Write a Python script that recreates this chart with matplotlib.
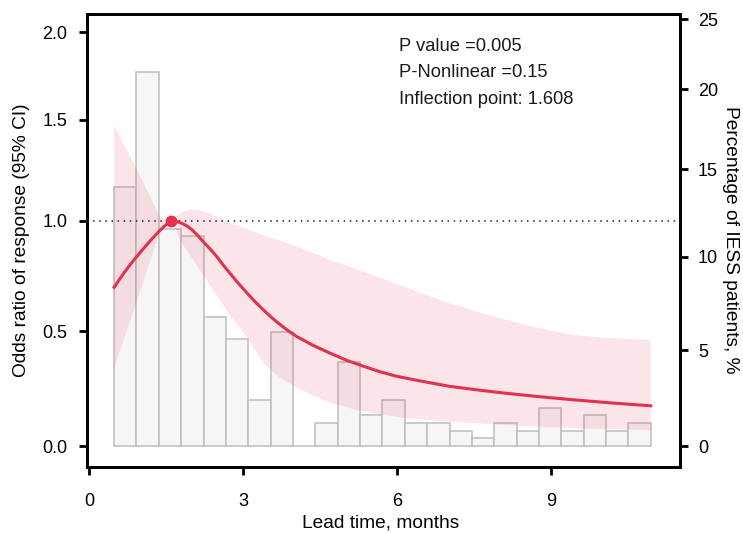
import numpy as np
import matplotlib
matplotlib.use("Agg")
import matplotlib.pyplot as plt

plt.rcParams['font.family'] = ['Liberation Sans', 'DejaVu Sans']

# ---------------- data ----------------
# histogram of lead time (percentage of IESS patients per bin)
hist_start = 0.49
hist_end = 10.95
hist_pct = [13.94, 21.12, 11.55, 11.16, 6.77, 5.58, 2.39, 5.98, 0.0, 1.20,
            4.38, 1.59, 2.39, 1.20, 1.20, 0.80, 0.40, 1.20, 0.80, 1.99,
            0.80, 1.59, 0.80, 1.20]

# fitted odds ratio curve
curve_x = [0.49, 0.60, 0.70, 0.83, 0.96, 1.10, 1.20, 1.29, 1.38, 1.45, 1.53, 1.608,
           1.70, 1.80, 1.90, 2.00, 2.12, 2.25, 2.38, 2.50, 2.62, 2.75, 2.90, 3.07,
           3.23, 3.40, 3.56, 3.72, 3.88, 4.05, 4.37, 4.70, 5.02, 5.35, 5.67, 6.00,
           6.45, 7.04, 7.60, 8.14, 8.80, 9.44, 10.20, 10.95]
curve_y = [0.695, 0.733, 0.766, 0.806, 0.843, 0.882, 0.909, 0.932, 0.955, 0.971, 0.988, 1.0,
           0.998, 0.99, 0.978, 0.96, 0.932, 0.897, 0.865, 0.832, 0.795, 0.758, 0.716, 0.672,
           0.632, 0.594, 0.560, 0.530, 0.502, 0.476, 0.437, 0.403, 0.372, 0.346, 0.322, 0.302,
           0.282, 0.258, 0.242, 0.228, 0.213, 0.200, 0.186, 0.174]

# 95% CI bounds
upper_x = [0.49, 0.94, 1.38, 1.50, 1.608, 1.70, 1.80, 1.94, 2.10, 2.30, 2.50, 2.75,
           3.07, 3.40, 3.72, 4.05, 4.70, 5.35, 6.00, 6.94, 7.50, 8.14, 8.79, 9.44,
           10.20, 10.95]
upper_y = [1.47, 1.245, 1.02, 1.005, 1.0, 1.02, 1.04, 1.054, 1.052, 1.04, 1.02, 0.99,
           0.963, 0.935, 0.908, 0.88, 0.82, 0.765, 0.71, 0.63, 0.59, 0.549, 0.512, 0.483,
           0.468, 0.461]
lower_x = [0.49, 0.96, 1.38, 1.50, 1.608, 1.70, 1.77, 2.00, 2.24, 2.50, 2.75, 3.07,
           3.40, 3.70, 3.98, 4.35, 4.70, 5.20, 5.67, 6.30, 7.04, 8.00, 8.79, 9.80, 10.95]
lower_y = [0.337, 0.653, 0.948, 0.975, 1.0, 0.96, 0.91, 0.83, 0.745, 0.655, 0.57, 0.475,
           0.36, 0.30, 0.262, 0.22, 0.188, 0.157, 0.136, 0.118, 0.105, 0.092, 0.083, 0.075,
           0.069]

inflection_x = 1.608
inflection_y = 1.0
ref_line = 1.0

annot_lines = ["P value =0.005", "P-Nonlinear =0.15", "Inflection point: 1.608"]
x_ticks = [0, 3, 6, 9]
left_ticks = [0.0, 0.5, 1.0, 1.5, 2.0]
right_ticks = [0, 5, 10, 15, 20, 25]

# ---------------- scales ----------------
K = 0.405


def fwd_l(v):
    return np.sin(K * np.clip(v, -3.8, 3.8))


def inv_l(u):
    return np.arcsin(np.clip(u, -1, 1)) / K


def fwd_r(v):
    return fwd_l(np.asarray(v) / 12.0)


def inv_r(u):
    return inv_l(u) * 12.0


# ---------------- figure ----------------
W, H = 743, 533
fig = plt.figure(figsize=(W / 100, H / 100), dpi=100)
ax = fig.add_axes([87 / W, 1 - 466.5 / H, (680 - 87) / W, (466.5 - 13.5) / H])
ax2 = ax.twinx()

ax.set_yscale('function', functions=(fwd_l, inv_l))
ax2.set_yscale('function', functions=(fwd_r, inv_r))

ylo, yhi = -0.0886, 2.121
ax.set_ylim(ylo, yhi)
ax2.set_ylim(ylo * 12, yhi * 12)
ax.set_xlim(-0.039, 11.52)

# histogram on right axis
edges = np.linspace(hist_start, hist_end, len(hist_pct) + 1)
ax2.bar(edges[:-1], hist_pct, width=np.diff(edges), align='edge',
        color='#F7F5F6', edgecolor='#BDBDBD', linewidth=1.1, zorder=1)

# left axis on top of the histogram
ax.set_zorder(ax2.get_zorder() + 1)
ax.patch.set_visible(False)

red = '#E23150'
ax.fill(np.concatenate([upper_x, lower_x[::-1]]),
        np.concatenate([upper_y, lower_y[::-1]]),
        color=red, alpha=0.12, linewidth=0, zorder=2)
ax.plot(curve_x, curve_y, color=red, lw=2.2, zorder=4, solid_joinstyle='round')
ax.axhline(ref_line, color='#222222', lw=1.1, linestyle=(0, (1, 3)), zorder=3)
ax.plot([inflection_x], [inflection_y], 'o', color=red, markersize=7.5, zorder=5)

for i, t in enumerate(annot_lines):
    ax.text(0.526, 0.928 - i * 0.0585, t, transform=ax.transAxes, fontsize=13.2,
            ha='left', va='center', color='#1a1a1a')

# ticks and spines
ax.set_xticks(x_ticks)
ax.set_yticks(left_ticks)
ax.set_yticklabels([f"{v:.1f}" for v in left_ticks])
ax2.set_yticks(right_ticks)
ax2.set_yticklabels([str(v) for v in right_ticks])
ax.minorticks_off()
ax2.minorticks_off()

for a in (ax, ax2):
    for s in a.spines.values():
        s.set_linewidth(2.0)
        s.set_color('black')
    a.tick_params(length=6, width=2.0, labelsize=13, colors='black')

ax.tick_params(axis='x', pad=13)
ax.tick_params(axis='y', pad=8)
ax2.tick_params(axis='y', pad=7)

fig.text(381 / W, 1 - 523 / H, "Lead time, months", fontsize=13.8,
         ha='center', va='center')
fig.text(22 / W, 1 - 240 / H, "Odds ratio of response (95% CI)", fontsize=13.8,
         ha='center', va='center', rotation=90)
fig.text(730 / W, 1 - 240 / H, "Percentage of IESS patients, %", fontsize=13.8,
         ha='center', va='center', rotation=-90)

fig.savefig("out.png", dpi=100)
